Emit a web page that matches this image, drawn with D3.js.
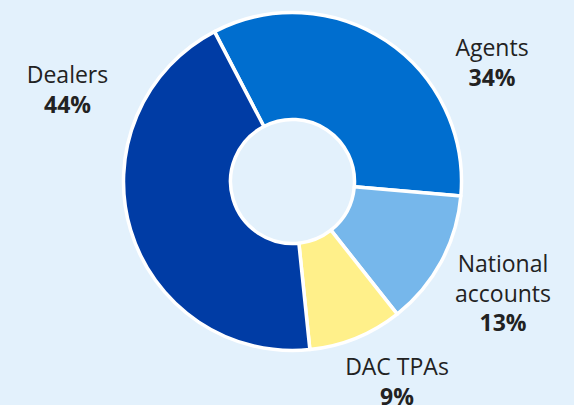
<!DOCTYPE html>
<html><head><meta charset="utf-8">
<script src="https://cdn.jsdelivr.net/npm/d3@7/dist/d3.min.js"></script>
<style>
html,body{margin:0;padding:0;background:#e3f1fc;}
svg{display:block;}
</style></head>
<body>
<svg id="chart" width="574" height="405"></svg>
<script>
// Data
const categories = ["Agents", "National accounts", "DAC TPAs", "Dealers"];
const values = [34, 13, 9, 44];
const colors = ["#006ecf", "#76b7eb", "#fff08a", "#003ca5"];
// label lines (category text may wrap)
const labelLines = [["Agents"], ["National", "accounts"], ["DAC TPAs"], ["Dealers"]];

// Layout
const W = 574, H = 405;
const cx = 292.5, cy = 181.5;
const outerR = 169, innerR = 62;
const startDeg = -27.5;
// label anchor positions (baseline of first line), layout only
const labelAnchor = [[492, 56], [503, 272], [397, 375], [67.5, 83]];
const lineH = 29.5;

const svg = d3.select("#chart");
svg.append("rect").attr("width", W).attr("height", H).attr("fill", "#e3f1fc");

const data = categories.map((c, i) => ({cat: c, value: values[i], color: colors[i], lines: labelLines[i]}));

const start = startDeg * Math.PI / 180;
const pie = d3.pie().value(d => d.value).sort(null)
  .startAngle(start).endAngle(start + 2 * Math.PI);
const arc = d3.arc().innerRadius(innerR).outerRadius(outerR);

const g = svg.append("g").attr("transform", `translate(${cx},${cy})`);
g.selectAll("path").data(pie(data)).join("path")
  .attr("d", arc)
  .attr("fill", d => d.data.color)
  .attr("stroke", "#ffffff")
  .attr("stroke-width", 3.5)
  .attr("stroke-linejoin", "round");

const labels = svg.append("g")
  .attr("font-family", "'Open Sans', 'Noto Sans', sans-serif")
  .attr("font-size", 23)
  .attr("fill", "#222222")
  .attr("text-anchor", "middle");

data.forEach((d, i) => {
  const [x, y] = labelAnchor[i];
  const t = labels.append("text").attr("x", x).attr("y", y);
  d.lines.forEach((ln, j) => {
    t.append("tspan").attr("x", x).attr("dy", j === 0 ? 0 : lineH).text(ln);
  });
  t.append("tspan").attr("x", x).attr("dy", lineH)
    .attr("font-weight", 700).text(d.value + "%");
});
</script>
</body></html>
